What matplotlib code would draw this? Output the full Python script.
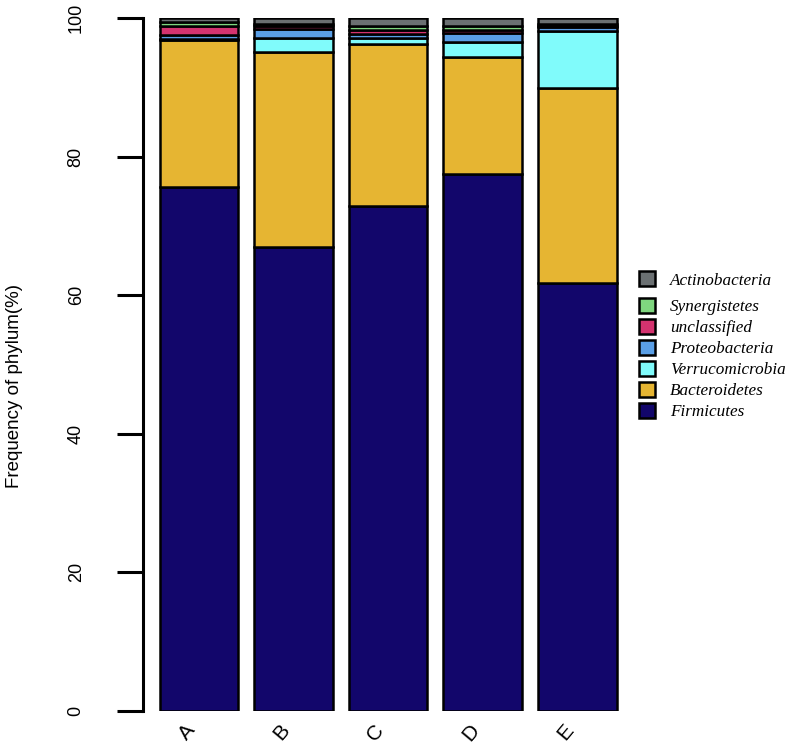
from matplotlib import pyplot as plt
import numpy as np

samples = ["A", "B", "C", "D", "E"]
phyla = ["Firmicutes", "Bacteroidetes", "Verrucomicrobia", "Proteobacteria",
         "unclassified", "Synergistetes", "Actinobacteria"]
firmicutes = [75.6, 67.0, 72.9, 77.5, 61.8]
bacteroidetes = [21.2, 28.1, 23.4, 16.9, 28.1]
verrucomicrobia = [0.2, 2.0, 0.8, 2.1, 8.2]
proteobacteria = [0.5, 1.3, 0.6, 1.3, 0.6]
unclassified = [1.3, 0.5, 0.6, 0.5, 0.2]
synergistetes = [0.6, 0.2, 0.6, 0.5, 0.2]
actinobacteria = [0.6, 0.9, 1.1, 1.2, 0.9]

colors = ["#12066b", "#e6b532", "#80fbfb", "#5a9fe6", "#d4336f", "#7fd67f", "#6b7072"]

values = [firmicutes, bacteroidetes, verrucomicrobia, proteobacteria,
          unclassified, synergistetes, actinobacteria]

fig = plt.figure(figsize=(7.88, 7.44), dpi=100)
ax = fig.add_axes([143 / 788, 33 / 744, 477 / 788, 693 / 744])

x = np.arange(len(samples))
bottom = np.zeros(len(samples))
bars = []
for name, vals, c in zip(phyla, values, colors):
    b = ax.bar(x, vals, width=0.83, bottom=bottom, color=c, edgecolor="black",
               linewidth=1.8, label=name)
    bars.append(b)
    bottom += np.array(vals)

ax.set_xlim(-0.59, 4.45)
ax.set_ylim(0, 100)
for s in ["top", "right", "bottom"]:
    ax.spines[s].set_visible(False)
ax.spines["left"].set_linewidth(2.2)
ax.spines["left"].set_bounds(0, 100)

ax.set_yticks([0, 20, 40, 60, 80, 100])
ax.tick_params(axis="y", length=19, width=2.2, pad=23)
for lab in ax.get_yticklabels():
    lab.set_rotation(90)
    lab.set_va("center")
    lab.set_fontfamily("Liberation Sans")
    lab.set_fontsize(13)
ax.set_xticks(x)
ax.set_xticklabels(samples, rotation=50, fontsize=15, ha="right", va="top",
                   family="Liberation Sans")
ax.tick_params(axis="x", length=0, pad=7)
fig.text(15 / 788, 1 - 386 / 744, "Frequency of phylum(%)", rotation=90,
         ha="center", va="center", fontsize=13.5, family="Liberation Sans")

# two legends so Actinobacteria sits a little apart, as in the original
font = {"family": "Liberation Serif", "style": "italic", "size": 12.3}
fig.legend([bars[-1]], [phyla[-1]], loc="upper left", bbox_to_anchor=(0.791, 0.656),
           frameon=False, prop=font, handlelength=0.95, handleheight=0.95,
           handletextpad=0.9)
fig.legend(bars[-2::-1], phyla[-2::-1], loc="upper left", bbox_to_anchor=(0.791, 0.62),
           frameon=False, prop=font, handlelength=0.95, handleheight=0.95,
           handletextpad=0.9, labelspacing=0.22)

plt.savefig("out.png", dpi=100)
